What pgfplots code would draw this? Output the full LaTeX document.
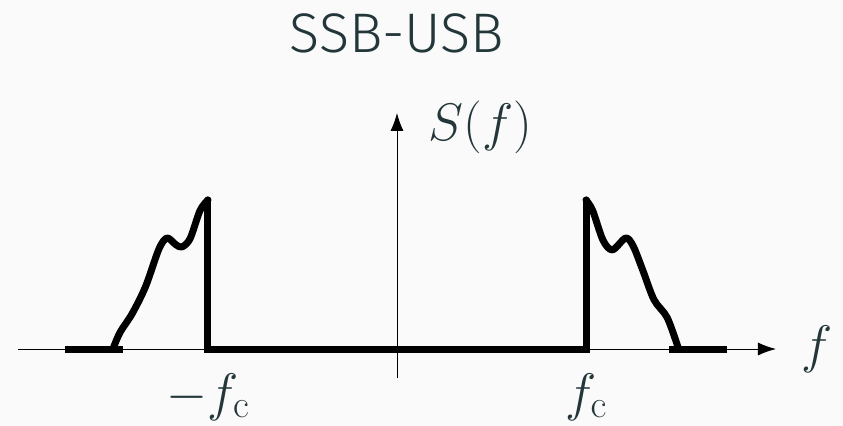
\RequirePackage{fix-cm}
\documentclass[border=0pt]{standalone}
\usepackage[no-math]{fontspec}
\setmainfont{Fira Sans}
\newfontfamily\titlefont{Fira Sans Light}
\usepackage{pgfplots}
\pgfplotsset{compat=1.18}
\usetikzlibrary{arrows.meta}
\DeclareMathSizes{53}{53}{39}{30}
\definecolor{mteal}{HTML}{23373B}
\definecolor{bgc}{HTML}{FAFAFA}
\begin{document}
\begin{tikzpicture}
\fill[bgc] (-397bp,-77bp) rectangle (446bp,349bp);
\useasboundingbox (-397bp,-77bp) rectangle (446bp,349bp);
\begin{axis}[
  at={(0,0)}, anchor=origin,
  x=189bp, y=149bp,
  axis lines=middle,
  enlargelimits=false,
  xmin=-2.005, xmax=2.005, ymin=-0.195, ymax=1.584,
  xtick={-1,1}, xticklabels={$-f_{\mathrm{c}}$,$f_{\mathrm{c}}$},
  ytick=\empty,
  major tick length=0pt,
  axis line style={line width=0.9bp, -{Latex[length=18bp,width=13bp]}},
  xticklabel style={text=mteal, font=\fontsize{53}{60}\selectfont, anchor=base, inner sep=0pt, yshift=-61bp},
  clip=false,
]
\addplot[black, line width=7bp, line cap=butt] coordinates {(-1.757,0) (-1.45,0)};
\addplot[black, line width=7bp, line cap=butt] coordinates {(1.44,0) (1.745,0)};
\addplot[black, line width=7bp, line cap=round, line join=round, smooth] coordinates {
(-1.503,0) (-1.466,0.11) (-1.40,0.24) (-1.33,0.42) (-1.26,0.67) (-1.217,0.745) (-1.17,0.70) (-1.138,0.685) (-1.095,0.74) (-1.042,0.93) (-1.0,1.0)};
\addplot[black, line width=7bp, line cap=round, line join=round, smooth] coordinates {
(1.0,1.0) (1.035,0.93) (1.09,0.73) (1.14,0.665) (1.21,0.745) (1.25,0.69) (1.30,0.53) (1.36,0.33) (1.43,0.21) (1.49,0.0)};
\addplot[black, line width=7bp, line cap=round, line join=miter] coordinates {(-1,1) (-1,0) (1,0) (1,1)};
\node[text=mteal, font=\fontsize{53}{60}\selectfont] at (axis cs:2.222,0) {$f$};
\node[text=mteal, font=\fontsize{53}{60}\selectfont] at (axis cs:0.44,1.49) {$S(f)$};
\node[text=mteal, font=\titlefont\fontsize{56}{64}\selectfont, anchor=base] at (axis cs:0,1.993) {SSB-USB};
\end{axis}
\end{tikzpicture}
\end{document}
